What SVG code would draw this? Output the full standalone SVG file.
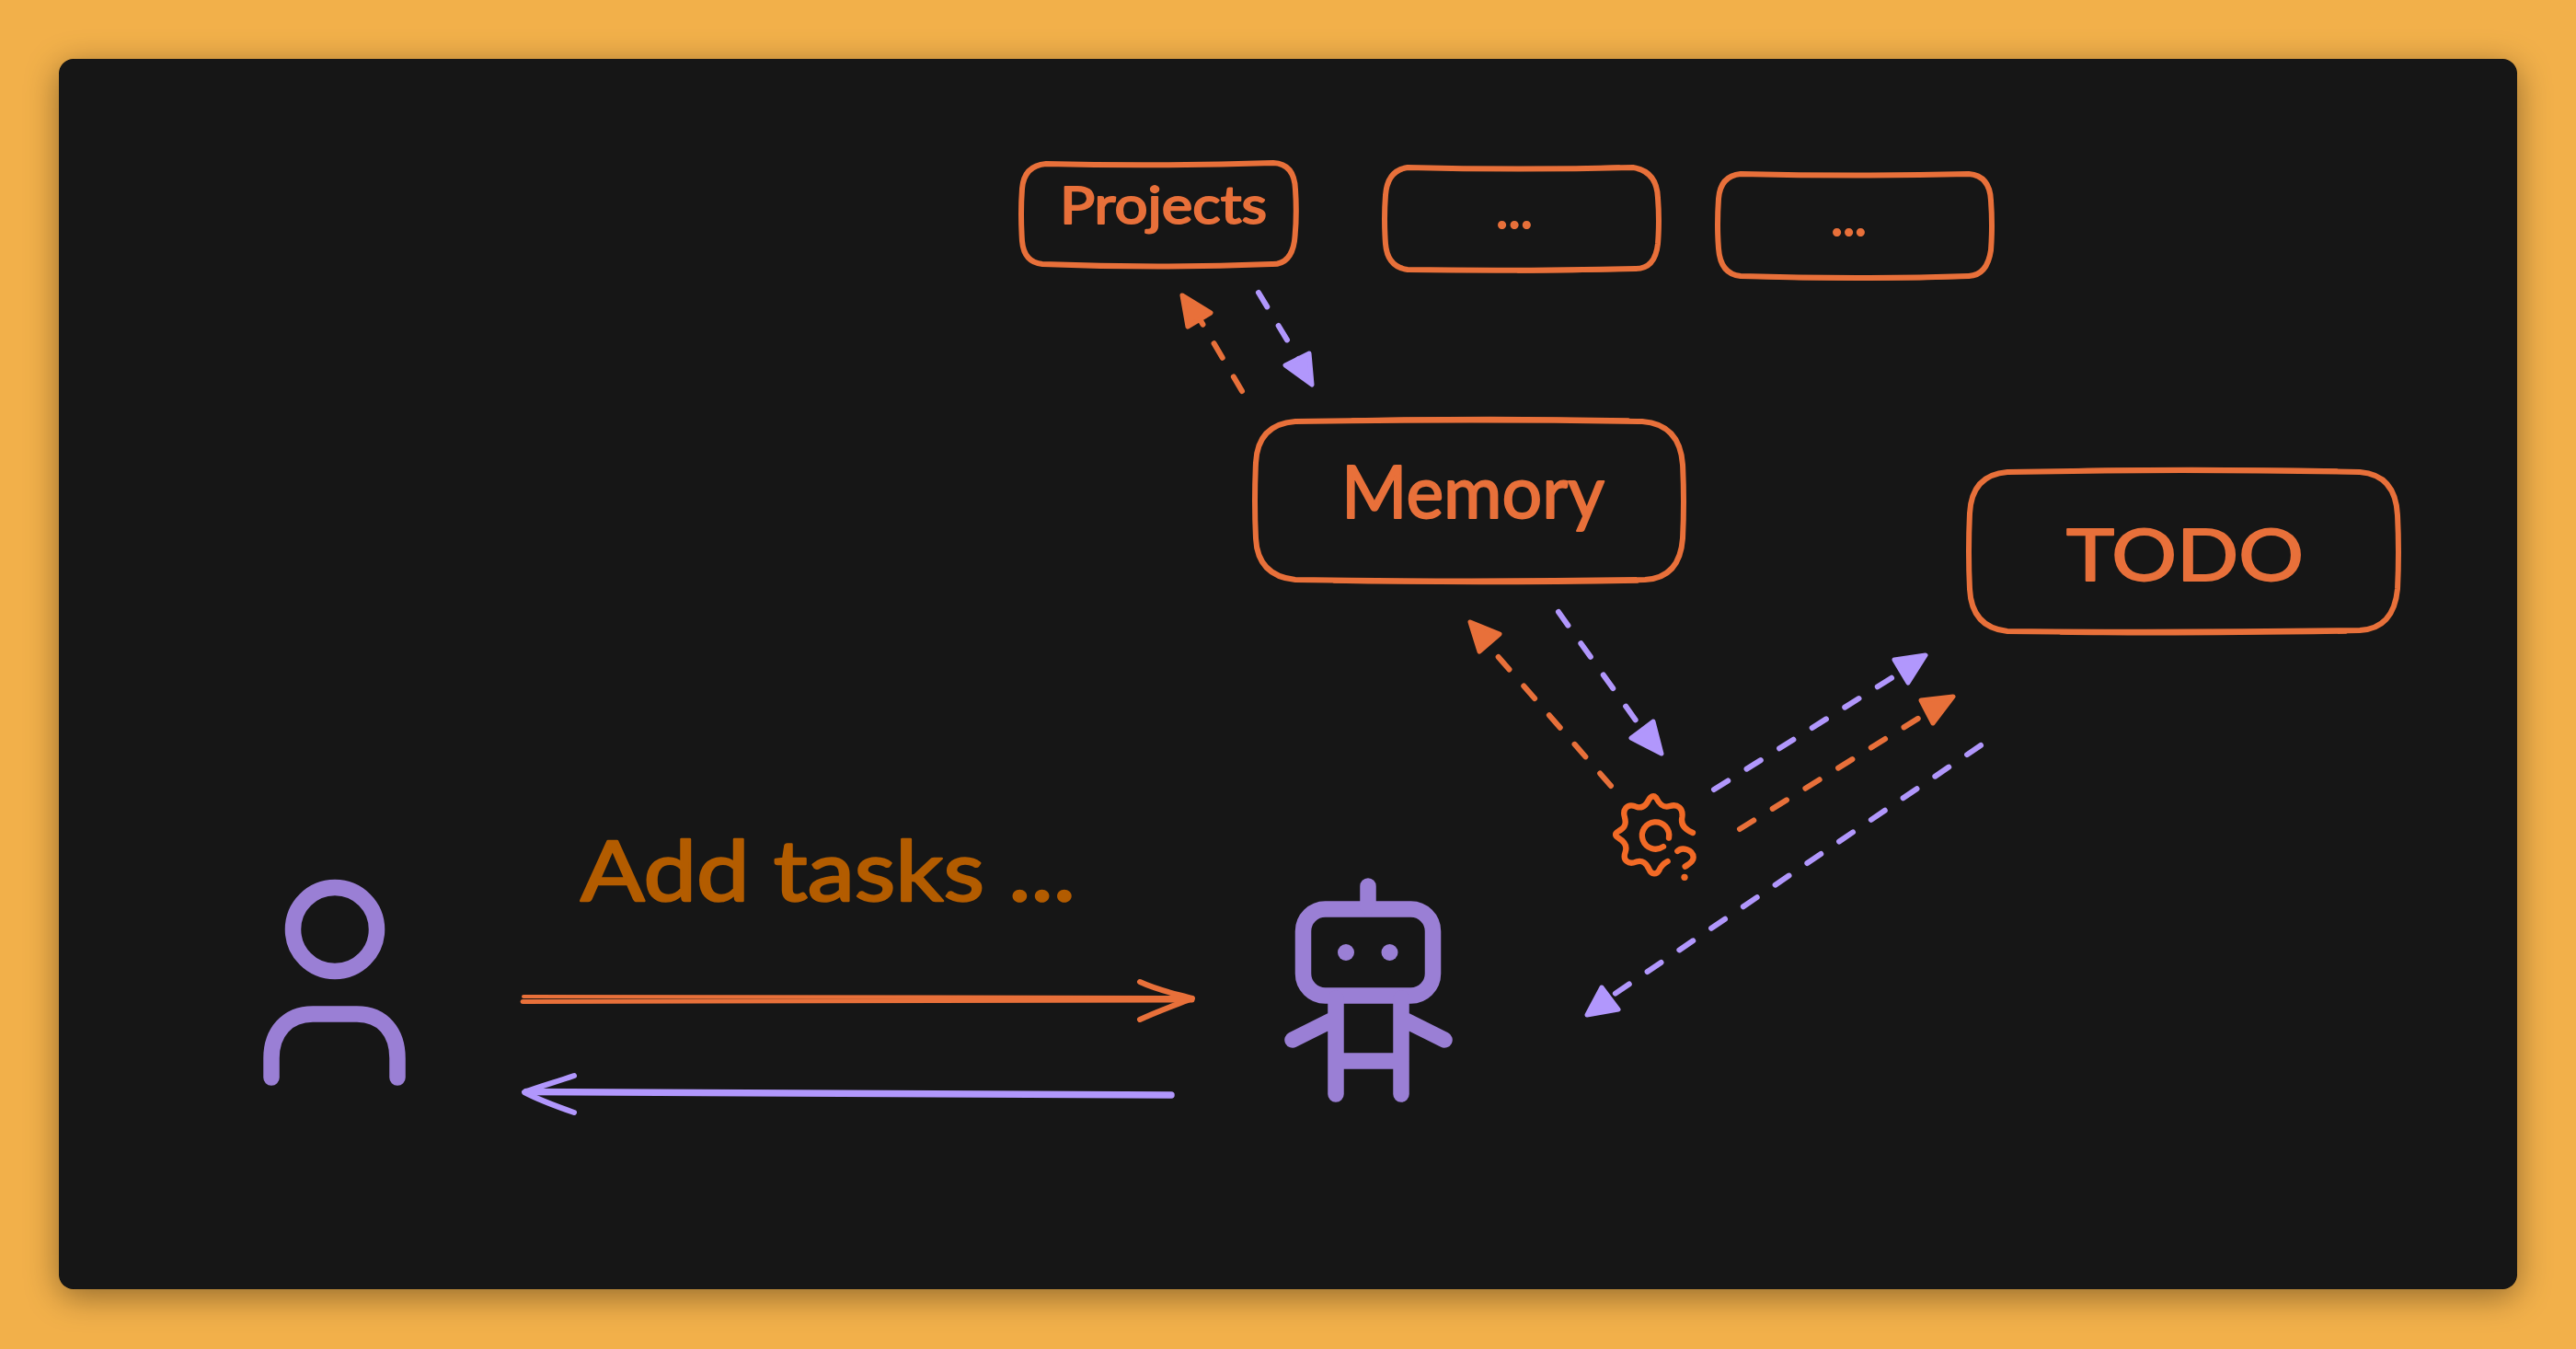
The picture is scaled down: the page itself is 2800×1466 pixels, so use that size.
<svg xmlns="http://www.w3.org/2000/svg" width="2800" height="1466" viewBox="0 0 2800 1466">
<defs>
<filter id="shadow" x="-10%" y="-10%" width="120%" height="120%"><feDropShadow dx="0" dy="8" stdDeviation="18" flood-color="#000" flood-opacity="0.4"/></filter>
</defs>
<style>
.box{fill:none;stroke:#e8703a;stroke-width:6;stroke-linecap:round;stroke-linejoin:round}
.thin{fill:none;stroke:#e8703a;stroke-width:3.5;stroke-linecap:round}
.label{fill:#e8703a;stroke:#e8703a;stroke-width:2;stroke-linejoin:round;font-family:"Lato","Open Sans",sans-serif;text-anchor:start}
.dash{fill:none;stroke-width:6;stroke-linecap:round;stroke-dasharray:18 24}
.solid{fill:none;stroke-linecap:round;stroke-linejoin:round}
.o{stroke:#e8703a}
.p{stroke:#b197fc}
.heado{fill:#e8703a;stroke:#e8703a;stroke-width:5;stroke-linejoin:round}
.headp{fill:#b197fc;stroke:#b197fc;stroke-width:5;stroke-linejoin:round}
.icon{fill:none;stroke:#9a7fd5;stroke-width:17.5;stroke-linecap:round;stroke-linejoin:round}
.gear{fill:none;stroke:#f26a26;stroke-width:19;stroke-linecap:round;stroke-linejoin:round}
</style>
<rect width="2800" height="1466" fill="#f2b04a"/>
<rect x="64" y="64" width="2672" height="1337" rx="16" fill="#121212" filter="url(#shadow)"/>

<g id="connectors">
<path class="dash o" d="M1350 425L1303 345"/>
<path class="heado" d="M1285 321L1316 340L1291 355Z"/>
<path class="dash p" d="M1368 318L1415 396"/>
<path class="headp" d="M1426 418L1423 384L1397 397Z"/>
<path class="dash o" d="M1751 854L1620 704"/>
<path class="heado" d="M1598 676L1630 689L1608 708Z"/>
<path class="dash p" d="M1694 665L1781 787"/>
<path class="headp" d="M1806 819L1797 784L1773 802Z"/>
<path class="dash p" d="M1863 858L2062 733"/>
<path class="headp" d="M2093 712L2059 717L2074 742Z"/>
<path class="dash o" d="M1891 901L2091 777"/>
<path class="heado" d="M2123 757L2088 761L2101 786Z"/>
<path class="dash p" d="M2153 810L1745 1087"/>
<path class="headp" d="M1725 1103L1741 1073L1759 1097Z"/>
<g id="arrow-user-bot">
<path class="solid o" stroke-width="4" d="M569 1083L1296 1084"/>
<path class="solid o" stroke-width="5" d="M568 1088.5L1296 1087"/>
<path class="solid o" stroke-width="6" d="M1239 1067C1258 1076 1278 1080 1296 1085C1278 1092 1258 1099 1239 1108"/>
</g>
<g id="arrow-bot-user">
<path class="solid p" stroke-width="7.5" d="M572 1186.5L1273 1190"/>
<path class="solid p" stroke-width="6" d="M624 1169C604 1176 585 1181 570 1187C585 1195 604 1202 624 1209"/>
</g>
</g>

<g id="node-projects">
<path class="box" d="M1137 178Q1260 181 1384 177Q1407 178 1408 206Q1410 235 1407 262Q1403 288 1382 287Q1260 292 1133 287Q1113 285 1111 262Q1109 232 1111 205Q1113 180 1137 178Z"/>
<text class="label" x="1152" y="243" font-size="56" textLength="225" lengthAdjust="spacingAndGlyphs">Projects</text>
</g>
<g id="node-dots-1">
<path class="box" d="M1530 182Q1650 185 1775 182Q1801 186 1802 215Q1804 240 1802 265Q1799 292 1778 292Q1650 295 1530 293Q1508 290 1506 265Q1504 238 1506 212Q1508 185 1530 182Z"/>
<path class="thin" d="M1600 183Q1680 185 1760 181M1650 295Q1710 295 1770 293"/>
<text class="label" x="1626" y="248" font-size="56" textLength="40" lengthAdjust="spacing">...</text>
</g>
<g id="node-dots-2">
<path class="box" d="M1892 189Q2020 192 2140 189Q2163 191 2164 218Q2166 245 2164 272Q2160 299 2140 300Q2020 304 1892 300Q1870 298 1868 270Q1866 245 1868 216Q1870 191 1892 189Z"/>
<path class="thin" d="M1900 301Q2020 305 2140 301"/>
<text class="label" x="1990" y="256" font-size="56" textLength="39" lengthAdjust="spacing">...</text>
</g>
<g id="node-memory">
<path class="box" d="M1408 458Q1600 455 1785 458Q1826 461 1829 505Q1831 545 1829 585Q1826 628 1788 630Q1600 633 1408 630Q1367 626 1365 585Q1363 545 1365 503Q1367 461 1408 458Z"/>
<path class="thin" d="M1450 632Q1600 635 1780 632M1470 456Q1620 453 1770 456"/>
<text class="label" x="1458" y="563" font-size="80" textLength="286" lengthAdjust="spacingAndGlyphs">Memory</text>
</g>
<g id="node-todo">
<path class="box" d="M2182 513Q2370 509 2565 513Q2604 516 2606 560Q2608 600 2606 640Q2602 683 2565 685Q2370 688 2182 686Q2143 682 2141 640Q2139 600 2141 558Q2143 516 2182 513Z"/>
<path class="thin" d="M2250 511Q2370 508 2540 511M2240 688Q2350 690 2550 687"/>
<text class="label" x="2246" y="631" font-size="78" textLength="258" lengthAdjust="spacingAndGlyphs">TODO</text>
</g>
<g id="label-add-tasks">
<text class="label" style="fill:#b35c00;stroke:#b35c00;stroke-width:2.5" x="631" y="979" font-size="92" textLength="538" lengthAdjust="spacingAndGlyphs">Add tasks ...</text>
</g>
<g id="node-user">
<circle class="icon" cx="364" cy="1010" r="45.5"/>
<path class="icon" d="M295 1171V1150C295 1122 312 1102 340 1102H388C416 1102 432 1122 432 1150V1171"/>
</g>
<g id="node-bot">
<rect class="icon" x="1416.5" y="988" width="141" height="94" rx="24"/>
<path class="icon" d="M1487 963V985M1452 1085V1189M1523 1085V1189M1452 1153H1523M1449 1108L1405 1130M1526 1108L1570 1130"/>
<circle cx="1463" cy="1035" r="9" fill="#9a7fd5"/>
<circle cx="1510.5" cy="1035" r="9" fill="#9a7fd5"/>
</g>
<g id="node-gear" transform="translate(1720 840) scale(0.3333)">
<path class="gear" d="M360 195C335 185 320 170 325 145C330 115 310 100 285 108C262 115 250 100 240 80C232 72 222 75 215 90C205 110 190 118 170 108C145 100 130 120 138 145C145 170 135 180 118 190C105 197 105 205 118 212C135 222 148 235 140 258C130 285 150 300 175 290C195 282 210 295 218 315C225 332 242 332 250 318C255 305 265 295 278 288"/>
<path class="gear" d="M282 212A44 44 0 1 0 264 240"/>
<path class="gear" d="M310 255C325 240 360 250 362 275C362 290 345 298 335 305"/>
<circle cx="333" cy="340" r="11" fill="#f26a26"/>
</g>
</svg>
